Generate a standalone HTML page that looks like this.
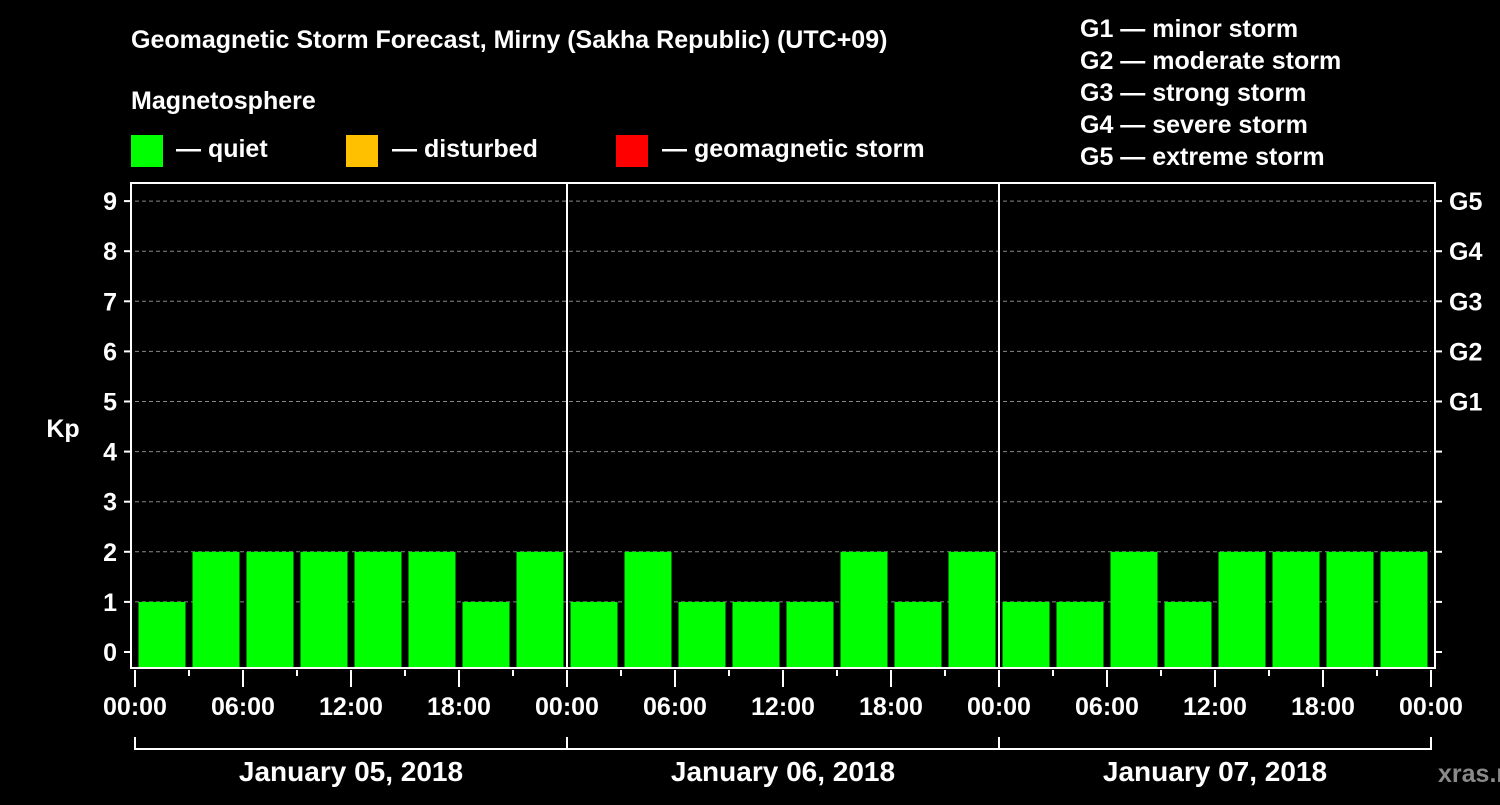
<!DOCTYPE html>
<html><head><meta charset="utf-8"><style>
body{margin:0;background:#000;width:1500px;height:800px;overflow:hidden}
svg text{font-family:"Liberation Sans",Arial,sans-serif;font-weight:bold;fill:#fff}
</style></head><body>
<svg id="c" width="1500" height="800" xmlns="http://www.w3.org/2000/svg">
<rect width="1500" height="800" fill="#000"/>
<text x="131" y="48" font-size="25">Geomagnetic Storm Forecast, Mirny (Sakha Republic) (UTC+09)</text>
<text x="131" y="109" font-size="25">Magnetosphere</text>
<g>
<rect x="131" y="135" width="32" height="32" fill="#00ff00"/>
<text x="176" y="157" font-size="25">— quiet</text>
<rect x="346" y="135" width="32" height="32" fill="#ffc000"/>
<text x="392" y="157" font-size="25">— disturbed</text>
<rect x="616" y="135" width="32" height="32" fill="#ff0000"/>
<text x="662" y="157" font-size="25">— geomagnetic storm</text>
</g>
<g font-size="25">
<text x="1080" y="37">G1 — minor storm</text>
<text x="1080" y="69">G2 — moderate storm</text>
<text x="1080" y="101">G3 — strong storm</text>
<text x="1080" y="133">G4 — severe storm</text>
<text x="1080" y="165">G5 — extreme storm</text>
</g>
<text x="63" y="437" font-size="25" text-anchor="middle">Kp</text>
<text x="1438" y="782" font-size="25" fill="#888" style="fill:#8a8a8a">xras.ru</text>
<g id="plot"></g>
</svg>
<script>
const values = [1,2,2,2,2,2,1,2, 1,2,1,1,1,2,1,2, 1,1,2,1,2,2,2,2];
const yTicks = [0,1,2,3,4,5,6,7,8,9];
const gLabels = ["G1","G2","G3","G4","G5"];
const xLabels = ["00:00","06:00","12:00","18:00","00:00","06:00","12:00","18:00","00:00","06:00","12:00","18:00","00:00"];
const days = ["January 05, 2018","January 06, 2018","January 07, 2018"];
const L=135,R=1431,T=183,B=667;
const slot=(R-L)/values.length;
const y=v=>652-50.1*v;
const x=i=>L+slot*i;
const NS="http://www.w3.org/2000/svg";
const g=document.getElementById('plot');
function mk(t,a,txt){const e=document.createElementNS(NS,t);for(const k in a)e.setAttribute(k,a[k]);if(txt!=null)e.textContent=txt;g.appendChild(e);return e;}
yTicks.forEach(v=>{
 if(v>0){const l=mk('line',{x1:L,x2:R,y1:y(v),y2:y(v),stroke:'#888','stroke-dasharray':'4,3','stroke-width':1});
 
 }
 const t=mk('line',{x1:124,x2:131,y1:y(v),y2:y(v),stroke:'#fff','stroke-width':2});
 
 
 const r=mk('line',{x1:1435,x2:1442,y1:y(v),y2:y(v),stroke:'#fff','stroke-width':2});
 
 
 const lb=mk('text',{x:117,y:y(v)+9,'font-size':25,'text-anchor':'end'},String(v));
 
 
});
gLabels.forEach((s,i)=>{
 const t=mk('text',{x:1449,y:y(5+i)+9,'font-size':25},s);
 
 
});
values.forEach((v,i)=>{
 const c=v>=5?'#ff0000':(v>=4?'#ffc000':'#00ff00');
 const b=mk('rect',{x:x(i)+3.5,y:y(v),width:slot-7,height:B-y(v),fill:c});
 
 
});
// frame
const f=mk('path',{d:`M131 ${T}H1435V${B+1}H131Z`,fill:'none',stroke:'#fff','stroke-width':2});


[1,2].forEach(d=>{const l=mk('line',{x1:x(d*8),x2:x(d*8),y1:T,y2:B,stroke:'#fff','stroke-width':2});
 
 });
for(let i=0;i<=values.length;i++){
 const major=i%2===0;
 const t=mk('line',{x1:x(i),x2:x(i),y1:B+3,y2:major?B+20:B+9,stroke:'#fff','stroke-width':2});
 
 
}
xLabels.forEach((s,i)=>{
 const t=mk('text',{x:x(i*2),y:715,'font-size':25,'text-anchor':'middle'},s);
 
 
});
days.forEach((s,d)=>{
 const a=x(d*8),b=x(d*8+8);
 const p=mk('path',{d:`M${a} 737V749H${b}V737`,fill:'none',stroke:'#fff','stroke-width':2});
 
 
 const t=mk('text',{x:(a+b)/2,y:781,'font-size':28,'text-anchor':'middle'},s);
 
 
});
</script>
</body></html>
